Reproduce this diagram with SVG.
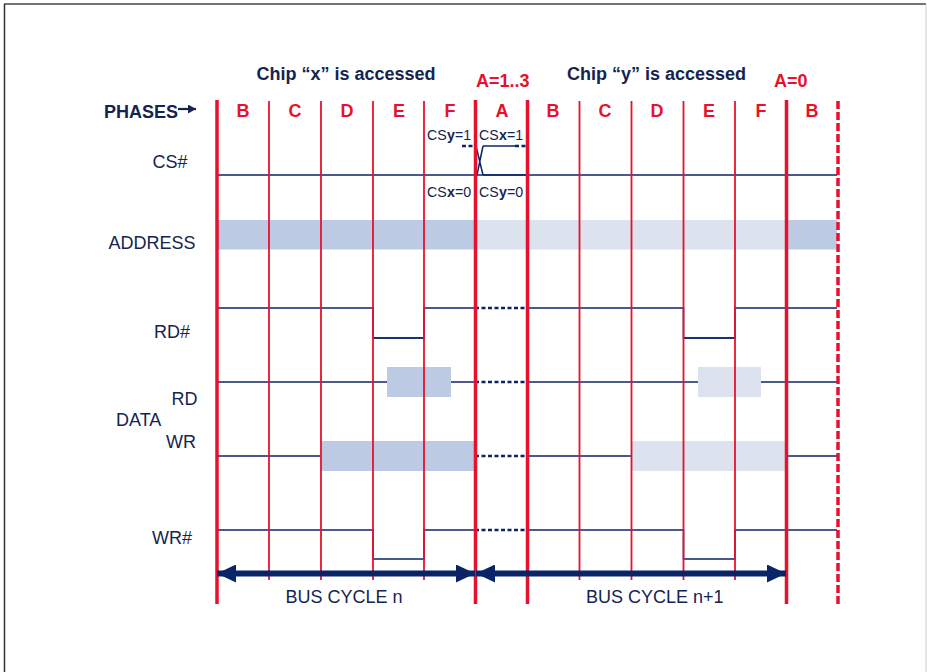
<svg xmlns="http://www.w3.org/2000/svg" width="927" height="672" viewBox="0 0 927 672">
<style>
.lbl{font-family:"Liberation Sans",Arial,sans-serif;font-size:18px;fill:#14244f}
.bold{font-weight:bold}
.ph{font-family:"Liberation Sans",Arial,sans-serif;font-size:18px;font-weight:bold;fill:#e8112d;text-anchor:middle}
.cs{font-family:"Liberation Sans",Arial,sans-serif;font-size:14.2px;fill:#14244f}
.sig{fill:none;stroke:#0a2468;stroke-width:1.5}
.dot{fill:none;stroke:#0a2468;stroke-width:2.5;stroke-dasharray:4 2.5}
.thick{stroke:#e8112d;stroke-width:3.5}
.thin{stroke:#e8112d;stroke-width:1.8}
.dk{fill:#bccbe3}
.lt{fill:#dce3ef}
</style>
<defs>
<marker id="ah" markerUnits="userSpaceOnUse" markerWidth="19" markerHeight="18" refX="19" refY="9" orient="auto-start-reverse">
<path d="M0,0 L19,9 L0,18 Z" fill="#0a2468"/>
</marker>
<marker id="sh" markerUnits="userSpaceOnUse" markerWidth="8" markerHeight="9" refX="8" refY="4.5" orient="auto">
<path d="M0,0 L8,4.5 L0,9 Z" fill="#14244f"/>
</marker>
</defs>
<rect width="927" height="672" fill="#fff"/>
<g id="frame">
<line x1="4" y1="4" x2="926" y2="4" stroke="#444" stroke-width="1.5"/>
<line x1="4.5" y1="4" x2="4.5" y2="672" stroke="#333" stroke-width="1.5"/>
<line x1="926" y1="4" x2="926" y2="672" stroke="#ccc" stroke-width="1"/>
</g>
<g id="bands">
<rect class="dk" x="217" y="220" width="258" height="29.5"/>
<rect class="lt" x="475" y="220" width="312" height="29.5"/>
<rect class="dk" x="787" y="220" width="50" height="29.5"/>
<rect class="dk" x="387" y="367" width="64" height="30"/>
<rect class="lt" x="698" y="367" width="63" height="30"/>
<rect class="dk" x="321" y="441" width="154" height="30"/>
<rect class="lt" x="631" y="441" width="156" height="30"/>
</g>
<g id="connectors">
<line class="sig" x1="217" y1="175" x2="837" y2="175"/>
<line class="sig" x1="483" y1="175" x2="527" y2="175" stroke-width="2.2"/>
<line class="sig" x1="483" y1="146" x2="515" y2="146" stroke-width="2.2"/>
<line class="dot" x1="462" y1="146" x2="475" y2="146" stroke-dasharray="2 1.5"/>
<line class="dot" x1="515" y1="146" x2="527" y2="146" stroke-dasharray="2 1.5"/>
<path class="sig" d="M476,146 L483,175 M477,175 L483,146" stroke-width="2.4"/>
<path class="sig" d="M217,308 H373 V338 H424 V308 H475"/>
<line class="sig" x1="373" y1="338" x2="424" y2="338" stroke-width="2.5"/>
<path class="sig" d="M527,308 H683.5 V338 H735 V308 H837"/>
<line class="sig" x1="683.5" y1="338" x2="735" y2="338" stroke-width="2.5"/>
<line class="dot" x1="475" y1="308" x2="527" y2="308"/>
<path class="sig" d="M217,382 H387 M451,382 H475 M527,382 H698 M761,382 H837"/>
<line class="dot" x1="475" y1="382" x2="527" y2="382"/>
<path class="sig" d="M217,456 H321 M527,456 H631 M787,456 H837"/>
<line class="dot" x1="475" y1="456" x2="527" y2="456"/>
<path class="sig" d="M217,530 H373 V559 H424 V530 H475"/>
<path class="sig" d="M527,530 H683.5 V559 H735 V530 H837"/>
<line class="dot" x1="475" y1="530" x2="527" y2="530"/>
</g>
<g id="grid">
<line class="thick" x1="217" y1="100" x2="217" y2="604"/>
<line class="thin" x1="269" y1="101" x2="269" y2="580"/>
<line class="thin" x1="321" y1="101" x2="321" y2="580"/>
<line class="thin" x1="373" y1="101" x2="373" y2="580"/>
<line class="thin" x1="424" y1="101" x2="424" y2="580"/>
<line class="thick" x1="475.5" y1="100" x2="475.5" y2="604" stroke-width="4"/>
<line class="thick" x1="527.5" y1="100" x2="527.5" y2="604" stroke-width="3"/>
<line class="thin" x1="579.5" y1="101" x2="579.5" y2="580"/>
<line class="thin" x1="631.5" y1="101" x2="631.5" y2="580"/>
<line class="thin" x1="683.5" y1="101" x2="683.5" y2="580"/>
<line class="thin" x1="735" y1="101" x2="735" y2="580"/>
<line class="thick" x1="786.5" y1="100" x2="786.5" y2="604"/>
<line class="thick" x1="838" y1="101" x2="838" y2="604" stroke-width="2.5" stroke-dasharray="8 3"/>
</g>
<g id="arrows">
<line x1="217" y1="573.5" x2="475" y2="573.5" stroke="#0a2468" stroke-width="6" marker-start="url(#ah)" marker-end="url(#ah)"/>
<line x1="476" y1="573.5" x2="786" y2="573.5" stroke="#0a2468" stroke-width="6" marker-start="url(#ah)" marker-end="url(#ah)"/>
</g>
<g id="phases">
<text class="lbl bold" x="104" y="117.5">PHASES</text>
<line x1="178" y1="109" x2="196" y2="109" stroke="#14244f" stroke-width="2.2" marker-end="url(#sh)"/>
<text class="ph" x="243" y="117">B</text>
<text class="ph" x="295" y="117">C</text>
<text class="ph" x="347" y="117">D</text>
<text class="ph" x="399" y="117">E</text>
<text class="ph" x="450" y="117">F</text>
<text class="ph" x="502" y="117">A</text>
<text class="ph" x="553" y="117">B</text>
<text class="ph" x="605" y="117">C</text>
<text class="ph" x="657" y="117">D</text>
<text class="ph" x="709" y="117">E</text>
<text class="ph" x="761" y="117">F</text>
<text class="ph" x="812" y="117">B</text>
</g>
<g id="headings">
<text class="lbl bold" x="256.5" y="80">Chip “x” is accessed</text>
<text class="lbl bold" x="567" y="80">Chip “y” is accessed</text>
<text class="lbl bold" x="476" y="87" style="fill:#e8112d">A=1..3</text>
<text class="lbl bold" x="774" y="87" style="fill:#e8112d">A=0</text>
</g>
<g id="cs-labels">
<text class="cs" x="427" y="140">CS</text>
<text class="cs bold" x="446.9" y="140">y</text>
<text class="cs" x="454.9" y="140">=1</text>
<text class="cs" x="479" y="140">CS</text>
<text class="cs bold" x="498.9" y="140">x</text>
<text class="cs" x="506.9" y="140">=1</text>
<text class="cs" x="427" y="197">CS</text>
<text class="cs bold" x="446.9" y="197">x</text>
<text class="cs" x="454.9" y="197">=0</text>
<text class="cs" x="479" y="197">CS</text>
<text class="cs bold" x="498.9" y="197">y</text>
<text class="cs" x="506.9" y="197">=0</text>
</g>
<g id="signal-labels">
<text class="lbl" x="152.5" y="168">CS#</text>
<text class="lbl" x="108.5" y="249">ADDRESS</text>
<text class="lbl" x="154" y="337.5">RD#</text>
<text class="lbl" x="171.5" y="405">RD</text>
<text class="lbl" x="116" y="426">DATA</text>
<text class="lbl" x="166" y="447.5">WR</text>
<text class="lbl" x="152" y="544">WR#</text>
</g>
<g id="cycle-labels">
<text class="lbl" x="285.5" y="603">BUS CYCLE n</text>
<text class="lbl" x="586" y="603">BUS CYCLE n+1</text>
</g>
</svg>
